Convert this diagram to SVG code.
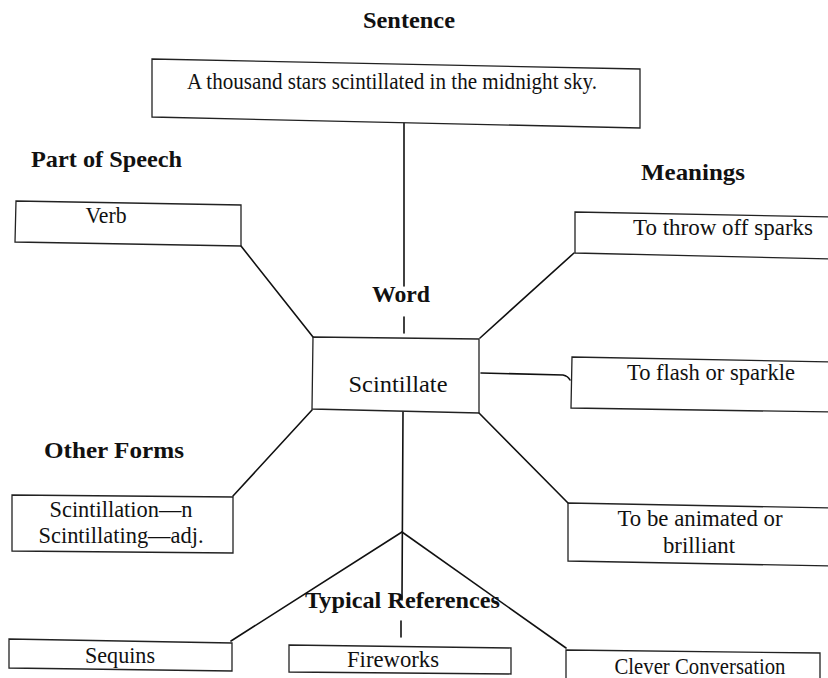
<svg xmlns="http://www.w3.org/2000/svg" width="828" height="678" viewBox="0 0 828 678">
<style>
  .box { fill: #fff; stroke: #222; stroke-width: 1.3; }
  .t { font-family: "Liberation Serif", "DejaVu Serif", serif; font-size: 23.5px; fill: #111; text-anchor: middle; }
  .h { font-family: "Liberation Serif", "DejaVu Serif", serif; font-size: 22.5px; font-weight: bold; fill: #111; }
  .c { fill: none; stroke: #111; stroke-width: 1.6; stroke-linecap: round; }
</style>
<rect x="0" y="0" width="828" height="678" fill="#fff"/>

<g id="connectors">
  <path class="c" d="M404,123 L404,286"/>
  <path class="c" d="M404,317 L404,333"/>
  <path class="c" d="M241,246 L313,337"/>
  <path class="c" d="M480,338 L574,253"/>
  <path class="c" d="M481,373 L563,375 Q568,376 570,380"/>
  <path class="c" d="M479,413 L568,503"/>
  <path class="c" d="M312,410 L233,496"/>
  <path class="c" d="M403,412 L402,600"/>
  <path class="c" d="M402,532 L231,641"/>
  <path class="c" d="M402,532 L566,648"/>
  <path class="c" d="M401,621 L401,637"/>
</g>

<g id="label-sentence">
  <text class="h" x="363" y="28" textLength="92" lengthAdjust="spacingAndGlyphs">Sentence</text>
</g>
<g id="node-sentence">
  <polygon class="box" points="152,59 640,69 640,128 152,117"/>
  <text class="t" x="392" y="89" font-size="23" textLength="410" lengthAdjust="spacingAndGlyphs">A thousand stars scintillated in the midnight sky.</text>
</g>

<g id="label-part-of-speech">
  <text class="h" x="31" y="167" textLength="151" lengthAdjust="spacingAndGlyphs">Part of Speech</text>
</g>
<g id="node-verb">
  <polygon class="box" points="16,201 241,205 241,246 15,242"/>
  <text class="t" x="106" y="223" textLength="41" lengthAdjust="spacingAndGlyphs">Verb</text>
</g>

<g id="label-meanings">
  <text class="h" x="641" y="180" textLength="104" lengthAdjust="spacingAndGlyphs">Meanings</text>
</g>
<g id="node-throw">
  <polygon class="box" points="575,212 830,217 830,259 575,253"/>
  <text class="t" x="723" y="235" textLength="180" lengthAdjust="spacingAndGlyphs">To throw off sparks</text>
</g>
<g id="node-flash">
  <polygon class="box" points="572,357 830,362 830,412 571,408"/>
  <text class="t" x="711" y="380" textLength="168" lengthAdjust="spacingAndGlyphs">To flash or sparkle</text>
</g>
<g id="node-animated">
  <polygon class="box" points="568,503 830,508 830,566 568,561"/>
  <text class="t" x="700" y="526" textLength="165" lengthAdjust="spacingAndGlyphs">To be animated or</text>
  <text class="t" x="699" y="553" textLength="72" lengthAdjust="spacingAndGlyphs">brilliant</text>
</g>

<g id="label-word">
  <text class="h" x="372" y="302" textLength="58" lengthAdjust="spacingAndGlyphs">Word</text>
</g>
<g id="node-word">
  <polygon class="box" points="313,337 479,339 479,413 312,409"/>
  <text class="t" x="398" y="392" font-size="24.5" textLength="99" lengthAdjust="spacingAndGlyphs">Scintillate</text>
</g>

<g id="label-other-forms">
  <text class="h" x="44" y="458" textLength="140" lengthAdjust="spacingAndGlyphs">Other Forms</text>
</g>
<g id="node-other-forms">
  <polygon class="box" points="12,495 233,497 233,553 12,551"/>
  <text class="t" x="121" y="517" textLength="143" lengthAdjust="spacingAndGlyphs">Scintillation—n</text>
  <text class="t" x="121" y="543" textLength="165" lengthAdjust="spacingAndGlyphs">Scintillating—adj.</text>
</g>

<g id="label-typical-references">
  <text class="h" x="305" y="608" textLength="195" lengthAdjust="spacingAndGlyphs">Typical References</text>
</g>
<g id="node-sequins">
  <polygon class="box" points="9,639 232,643 232,671 9,668"/>
  <text class="t" x="120" y="663" textLength="70" lengthAdjust="spacingAndGlyphs">Sequins</text>
</g>
<g id="node-fireworks">
  <polygon class="box" points="289,645 511,648 511,674 289,672"/>
  <text class="t" x="393" y="667" textLength="92" lengthAdjust="spacingAndGlyphs">Fireworks</text>
</g>
<g id="node-clever">
  <polygon class="box" points="566,650 820,653 820,680 566,680"/>
  <text class="t" x="700" y="674" textLength="171" lengthAdjust="spacingAndGlyphs">Clever Conversation</text>
</g>
</svg>
